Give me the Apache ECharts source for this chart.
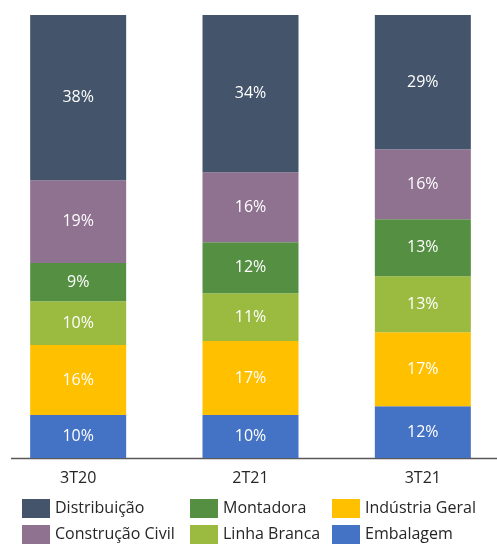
<!DOCTYPE html>
<html>
<head>
<meta charset="utf-8">
<script src="https://cdn.jsdelivr.net/npm/echarts@6/dist/echarts.min.js"></script>
<style>
  html, body { margin: 0; padding: 0; background: #fff; }
  #main { width: 497px; height: 545px; }
</style>
</head>
<body>
<div id="main"></div>
<script>
  // categorias (trimestres)
  var periodos = ['3T20', '2T21', '3T21']

  // participação de cada segmento (altura das barras, %)
  var embalagem = [9.7, 9.7, 11.7]
  var industriaGeral = [15.8, 16.7, 16.7]
  var linhaBranca = [9.9, 10.8, 12.6]
  var montadora = [8.6, 11.5, 12.9]
  var construcaoCivil = [18.7, 15.8, 15.8]
  var distribuicao = [37.3, 35.5, 30.3]

  // rótulos exibidos nas barras
  var rotEmbalagem = [10, 10, 12]
  var rotIndustria = [16, 17, 17]
  var rotLinha = [10, 11, 13]
  var rotMontadora = [9, 12, 13]
  var rotConstrucao = [19, 16, 16]
  var rotDistribuicao = [38, 34, 29]

  var fonte = 'Open Sans'

  function serie (nome, valores, rotulos, cor) {
    return {
      name: nome,
      type: 'bar',
      stack: 'total',
      barWidth: 96,
      itemStyle: { color: cor },
      label: {
        show: true,
        position: 'inside',
        color: '#ffffff',
        fontFamily: fonte,
        fontSize: 16,
        formatter: function (p) { return rotulos[p.dataIndex] + '%' }
      },
      data: valores
    }
  }

  // uma legenda por item, em 3 colunas x 2 linhas
  function legenda (left, top, nome) {
    return {
      left: left,
      top: top,
      padding: 0,
      itemWidth: 28,
      itemHeight: 19,
      itemGap: 0,
      data: [nome],
      icon: 'rect',
      textStyle: { fontFamily: fonte, fontSize: 16, color: '#262626', padding: [0, 0, 0, 0] },
      selectedMode: false
    }
  }

  var chart = echarts.init(document.getElementById('main'))
  chart.setOption({
    animation: false,
    grid: { left: -8, right: -12, top: 15, bottom: 87, outerBoundsMode: 'none' },
    xAxis: {
      type: 'category',
      data: periodos,
      axisLine: { show: false },
      axisTick: { show: false },
      axisLabel: { fontFamily: fonte, fontSize: 16, color: '#262626', margin: 12 }
    },
    yAxis: {
      type: 'value',
      min: 0,
      max: 100,
      show: false
    },
    legend: [
      legenda(22, 499, 'Distribuição'),
      legenda(22, 525, 'Construção Civil'),
      legenda(190, 499, 'Montadora'),
      legenda(190, 525, 'Linha Branca'),
      legenda(332, 499, 'Indústria Geral'),
      legenda(332, 525, 'Embalagem')
    ],
    // linha do eixo
    graphic: [{
      type: 'line',
      shape: { x1: 11, y1: 458.5, x2: 497, y2: 458.5 },
      style: { stroke: '#595959', lineWidth: 1.5 }
    }],
    series: [
      serie('Embalagem', embalagem, rotEmbalagem, '#4472C4'),
      serie('Indústria Geral', industriaGeral, rotIndustria, '#FFC000'),
      serie('Linha Branca', linhaBranca, rotLinha, '#9BBB40'),
      serie('Montadora', montadora, rotMontadora, '#548F42'),
      serie('Construção Civil', construcaoCivil, rotConstrucao, '#8F7190'),
      serie('Distribuição', distribuicao, rotDistribuicao, '#44546A')
    ]
  })
</script>
</body>
</html>
